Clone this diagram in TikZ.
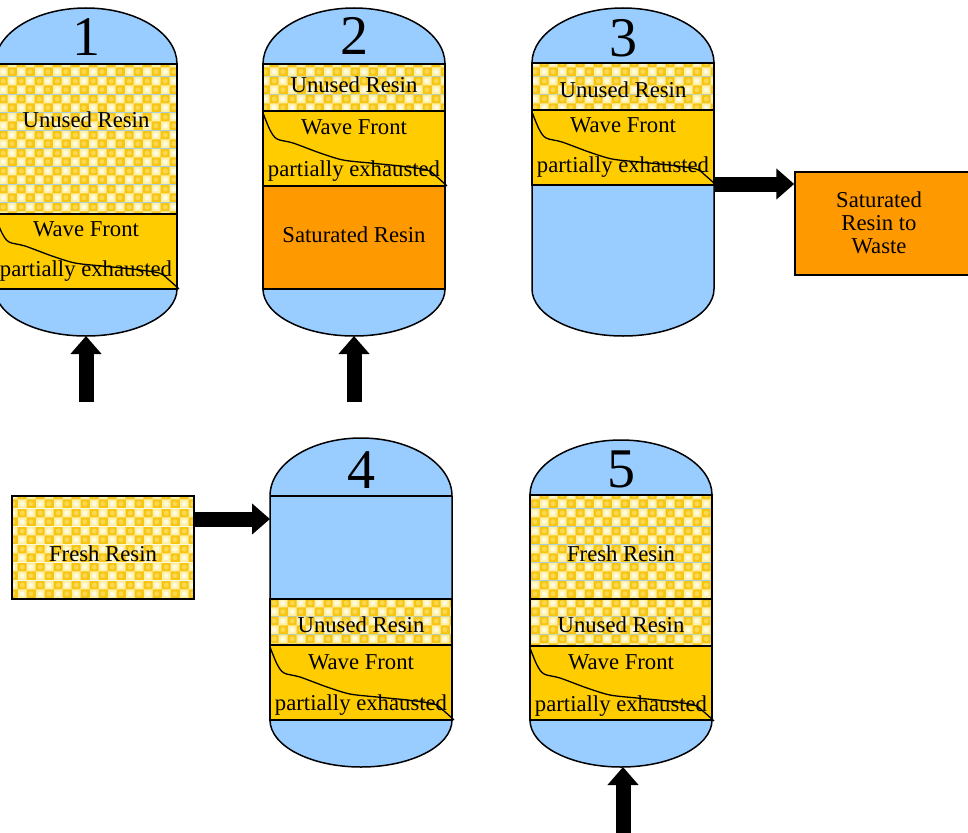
\documentclass[tikz,border=0pt]{standalone}
\usepackage{fontspec}
\setmainfont{Liberation Serif}
\usetikzlibrary{arrows.meta,patterns}

\definecolor{vesselBlue}{HTML}{99CCFF}
\definecolor{frontGold}{HTML}{FFCC00}
\definecolor{satOrange}{HTML}{FF9900}
\definecolor{checkGold}{HTML}{F7C514}
\definecolor{checkPale}{HTML}{FFF0A8}
\definecolor{checkLight}{HTML}{FFFBE0}
\definecolor{checkMid}{HTML}{FBD94E}

% checkered resin texture
\pgfdeclarepatterninherentlycolored{resin checks}
{\pgfqpoint{0pt}{0pt}}{\pgfqpoint{18pt}{18pt}}{\pgfqpoint{18pt}{18pt}}
{%
  \pgfsetfillcolor{checkGold}
  \pgfpathrectangle{\pgfqpoint{0pt}{0pt}}{\pgfqpoint{18pt}{18pt}}
  \pgfusepath{fill}
  \pgfsetfillcolor{checkPale}
  \pgfpathrectangle{\pgfqpoint{0pt}{0pt}}{\pgfqpoint{9pt}{9pt}}
  \pgfpathrectangle{\pgfqpoint{9pt}{9pt}}{\pgfqpoint{9pt}{9pt}}
  \pgfusepath{fill}
  \pgfsetfillcolor{checkLight}
  \pgfpathcircle{\pgfqpoint{4.5pt}{4.5pt}}{2.6pt}
  \pgfpathcircle{\pgfqpoint{13.5pt}{13.5pt}}{2.6pt}
  \pgfusepath{fill}
  \pgfsetfillcolor{checkMid}
  \pgfpathcircle{\pgfqpoint{13.5pt}{4.5pt}}{2.6pt}
  \pgfpathcircle{\pgfqpoint{4.5pt}{13.5pt}}{2.6pt}
  \pgfusepath{fill}
}

\tikzset{every picture/.style={line width=1.5pt}}
\tikzset{
  vessel/.style={draw, fill=vesselBlue},
  unused/.style={draw, pattern=resin checks},
  front/.style={draw, fill=frontGold},
  saturated/.style={draw, fill=satOrange},
  txt/.style={inner sep=0pt, font=\fontsize{22.7}{23}\selectfont},
  num/.style={inner sep=0pt, anchor=base, font=\fontsize{56}{60}\selectfont},
  bigarrow/.style={line width=15pt, -{Triangle[width=30pt,length=18pt]}},
  frontline/.pic={\draw[line width=1.3pt, yscale=-1] plot[smooth] coordinates {(0,2) (7,19) (14,28) (30,32) (57,42) (80,49) (107,52) (137,55) (164,59) (174,66) (184,75)};}
}

\begin{document}
\begin{tikzpicture}[x=1pt,y=1pt,yscale=-1,xscale=1]
\useasboundingbox (0,0) rectangle (968,832);
%Shape: Vessel 1
\draw[vessel] (-5,64) arc[start angle=180,end angle=360,x radius=91,y radius=56] -- (177,289) arc[start angle=0,end angle=180,x radius=91,y radius=47] -- cycle;
\draw[unused] (-5,64) rectangle (177,214);
\draw[front] (-5,214) rectangle (177,289);
\pic at (-5,214) {frontline};
% Text Node
\node[num] (n1) at (86,56) {1};
\node[txt] (u1) at (86,119.5) {Unused Resin};
\node[txt] (w1) at (86,229.5) {Wave Front};
\node[txt] (p1) at (86,271) {partially exhausted};

%Shape: Vessel 2
\draw[vessel] (263,64) arc[start angle=180,end angle=360,x radius=91,y radius=56] -- (445,289) arc[start angle=0,end angle=180,x radius=91,y radius=47] -- cycle;
\draw[unused] (263,64) rectangle (445,111);
\draw[front] (263,111) rectangle (445,186);
\draw[saturated] (263,186) rectangle (445,289);
\pic at (263,111) {frontline};
% Text Node
\node[num] (n2) at (354,55) {2};
\node[txt] (u2) at (354,84.5) {Unused Resin};
\node[txt] (w2) at (354,127.5) {Wave Front};
\node[txt] (p2) at (354,171) {partially exhausted};
\node[txt] (s2) at (354,234.5) {Saturated Resin};

%Shape: Vessel 3
\draw[vessel] (532,63) arc[start angle=180,end angle=360,x radius=91,y radius=55] -- (714,289) arc[start angle=0,end angle=180,x radius=91,y radius=47] -- cycle;
\draw[unused] (532,63) rectangle (714,110);
\draw[front] (532,110) rectangle (714,185);
\draw (532,185) -- (714,185);
\pic at (532,110) {frontline};
% Text Node
\node[num] (n3) at (623,57) {3};
\node[txt] (u3) at (623,90) {Unused Resin};
\node[txt] (w3) at (623,125.5) {Wave Front};
\node[txt] (p3) at (623,167) {partially exhausted};

%Shape: Waste box
\node[saturated, minimum width=180, minimum height=103] (waste) at (885,223.5) {};
\node[txt, align=center] (wastetxt) at (879,222.5) {Saturated\\Resin to\\Waste};

%Shape: Vessel 4
\draw[vessel] (270,496) arc[start angle=180,end angle=360,x radius=91,y radius=58] -- (452,720) arc[start angle=0,end angle=180,x radius=91,y radius=47] -- cycle;
\draw (270,496) -- (452,496);
\draw[unused] (270,599) rectangle (452,645);
\draw[front] (270,645) rectangle (452,720);
\pic at (270,645) {frontline};
% Text Node
\node[num] (n4) at (361,488) {4};
\node[txt] (u4) at (361,625) {Unused Resin};
\node[txt] (w4) at (361,662.5) {Wave Front};
\node[txt] (p4) at (361,705) {partially exhausted};

%Shape: Fresh box
\node[unused, minimum width=182, minimum height=103] (fresh) at (103,547.5) {};
\node[txt] (freshtxt) at (103,553.5) {Fresh Resin};

%Shape: Vessel 5
\draw[vessel] (530,495) arc[start angle=180,end angle=360,x radius=91,y radius=55] -- (712,720) arc[start angle=0,end angle=180,x radius=91,y radius=47] -- cycle;
\draw[unused] (530,495) rectangle (712,599);
\draw[unused] (530,599) rectangle (712,646);
\draw[front] (530,646) rectangle (712,720);
\pic at (530,646) {frontline};
% Text Node
\node[num] (n5) at (621,487) {5};
\node[txt] (f5) at (621,553.5) {Fresh Resin};
\node[txt] (u5) at (621,625) {Unused Resin};
\node[txt] (w5) at (621,662.5) {Wave Front};
\node[txt] (p5) at (621,706) {partially exhausted};

% Arrows
\coordinate (v1bot) at (86,336);
\coordinate (feed1) at (86,402);
\coordinate (v2bot) at (354,336);
\coordinate (feed2) at (354,402);
\coordinate (v3out) at (714,184);
\coordinate (v4in) at (270,519);
\coordinate (v5bot) at (623,767);
\coordinate (feed5) at (623,834);
\draw[bigarrow] (feed1) -- (v1bot);
\draw[bigarrow] (feed2) -- (v2bot);
\draw[bigarrow] (v3out) -- (v3out -| waste.west);
\draw[bigarrow] (fresh.east |- v4in) -- (v4in);
\draw[bigarrow] (feed5) -- (v5bot);
\end{tikzpicture}
\end{document}
